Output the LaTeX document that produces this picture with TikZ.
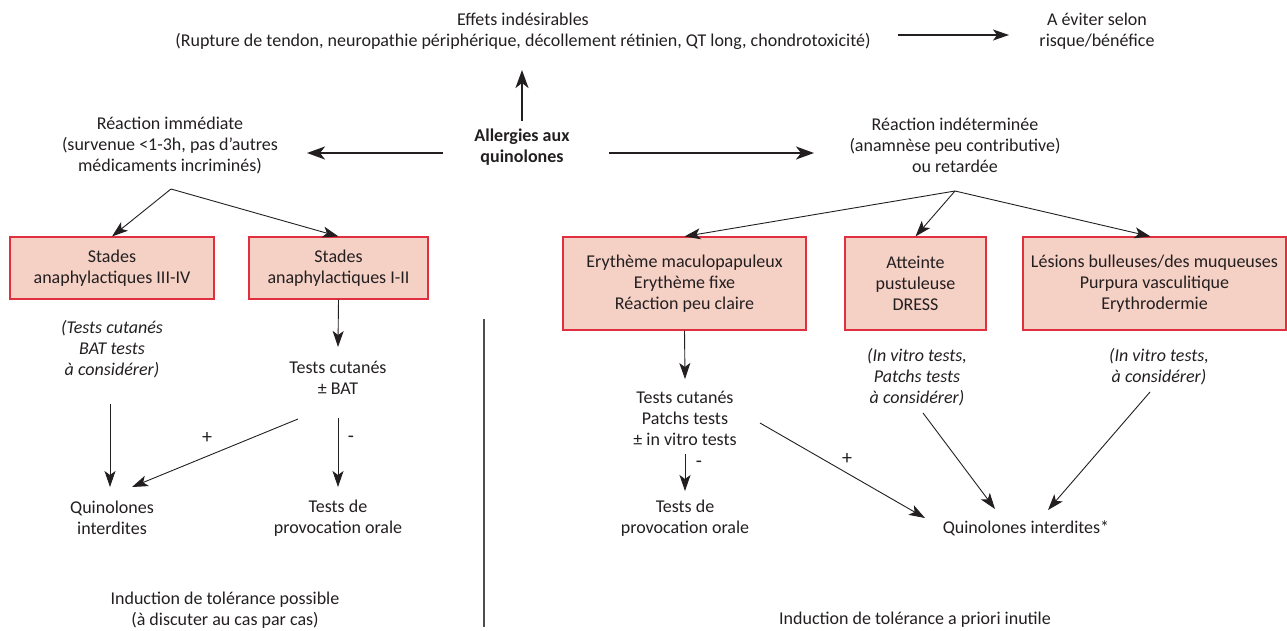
\documentclass[tikz,border=0pt]{standalone}
\usepackage{fontspec}
\setmainfont{Carlito}
\usetikzlibrary{arrows.meta}

\definecolor{quinoInk}{HTML}{231F20}
\definecolor{quinoRose}{HTML}{F5D0C5}
\definecolor{quinoRed}{HTML}{E0303F}
\definecolor{quinoRule}{HTML}{4D4D4D}

\begin{document}
\begin{tikzpicture}[x=1pt,y=-1pt,font=\fontsize{18}{21}\selectfont,text=quinoInk,
  lbl/.style={inner sep=0pt,align=center},
  note/.style={lbl,font=\fontsize{18}{21}\selectfont\itshape},
  redbox/.style={draw=quinoRed,fill=quinoRose,line width=1.1pt,inner sep=0pt,align=center},
  shortbox/.style={redbox,minimum height=62pt},
  tallbox/.style={redbox,minimum height=93pt},
  flow/.style={draw=quinoInk,line width=0.9pt,-{Stealth[length=16pt,width=11pt,inset=4pt]}},
  sideflow/.style={flow,line width=1.3pt},
  mainflow/.style={draw=quinoInk,line width=2.2pt,-{Stealth[length=18pt,width=13pt,inset=5pt]}},
  sign/.style={inner sep=0pt,font=\fontsize{20}{20}\selectfont}]
  \useasboundingbox (0,0) rectangle (1287,630);

  \node[lbl] (effets) at (523,31) {Effets indésirables\\(Rupture de tendon, neuropathie périphérique, décollement rétinien, QT long, chondrotoxicité)};
  \node[lbl] (eviter) at (1097,31) {A éviter selon\\risque/bénéfice};
  \node[lbl,font=\fontsize{18}{21}\selectfont\bfseries] (allergie) at (522,147) {Allergies aux\\quinolones};
  \node[lbl] (immediate) at (170,145) {Réaction immédiate\\(survenue <1-3h, pas d’autres\\médicaments incriminés)};
  \node[lbl] (indeterminee) at (955,145) {Réaction indéterminée\\(anamnèse peu contributive)\\ou retardée};

  \node[shortbox,minimum width=204pt] (stadesHaut) at (112,268) {Stades\\anaphylactiques III-IV};
  \node[shortbox,minimum width=179pt] (stadesBas) at (338.5,268) {Stades\\anaphylactiques I-II};
  \node[tallbox,minimum width=243pt] (erytheme) at (684.5,283.5) {Erythème maculopapuleux\\Erythème fixe\\Réaction peu claire};
  \node[tallbox,minimum width=141pt] (pustuleuse) at (915.5,283.5) {Atteinte\\pustuleuse\\DRESS};
  \node[tallbox,minimum width=263pt] (bulleuse) at (1154.5,283.5) {Lésions bulleuses/des muqueuses\\Purpura vasculitique\\Erythrodermie};

  \node[note] (noteStadesHaut) at (112,349) {(Tests cutanés\\BAT tests\\à considérer)};
  \node[lbl] (cutanesBat) at (338,377.5) {Tests cutanés\\± BAT};
  \node[lbl] (interditesGauche) at (112,518) {Quinolones\\interdites};
  \node[lbl] (provocationGauche) at (338,518) {Tests de\\provocation orale};
  \node[lbl] (toleranceGauche) at (225,610) {Induction de tolérance possible\\(à discuter au cas par cas)};

  \node[lbl] (cutanesPatch) at (685,418) {Tests cutanés\\Patchs tests\\± in vitro tests};
  \node[lbl] (provocationDroite) at (685,518) {Tests de\\provocation orale};
  \node[note] (notePustuleuse) at (917,377) {(In vitro tests,\\Patchs tests\\à considérer)};
  \node[note] (noteBulleuse) at (1159,366.5) {(In vitro tests,\\à considérer)};
  \node[lbl] (interditesDroite) at (1026,528) {Quinolones interdites*};
  \node[lbl] (toleranceDroite) at (915,620) {Induction de tolérance a priori inutile};

  \node[sign] (plusGauche) at (207,438) {+};
  \node[sign] (moinsGauche) at (351,439) {-};
  \node[sign] (plusDroite) at (847,459) {+};
  \node[sign] (moinsDroite) at (699,464) {-};

  \draw[quinoRule,line width=1.2pt] (484,319) -- (484,627);

  \draw[mainflow] ([shift={(0,-26)}]allergie.center) -- ([shift={(-1,39)}]effets.center);
  \draw[mainflow] ([shift={(-79,6)}]allergie.center) -- ([shift={(137,8)}]immediate.center);
  \draw[mainflow] ([shift={(87,6)}]allergie.center) -- ([shift={(-141,8)}]indeterminee.center);
  \draw[sideflow] ([shift={(375,4)}]effets.center) -- ([shift={(-88,4)}]eviter.center);

  \draw[flow] ([shift={(1,44)}]immediate.center) -- (stadesHaut.north);
  \draw[flow] ([shift={(1,44)}]immediate.center) -- (stadesBas.north);
  \draw[flow] (stadesBas.south) -- ([shift={(0,-30.5)}]cutanesBat.center);
  \draw[flow] ([shift={(-2,55)}]noteStadesHaut.center) -- ([shift={(-2,-31)}]interditesGauche.center);
  \draw[flow] ([shift={(-40,41.5)}]cutanesBat.center) -- ([shift={(20,-31)}]interditesGauche.center);
  \draw[flow] ([shift={(0,40.5)}]cutanesBat.center) -- ([shift={(0,-31)}]provocationGauche.center);

  \draw[flow] ([shift={(0,46)}]indeterminee.center) -- (erytheme.north);
  \draw[flow] ([shift={(0,46)}]indeterminee.center) -- (pustuleuse.north);
  \draw[flow] ([shift={(0,46)}]indeterminee.center) -- ([xshift=-4pt]bulleuse.north);
  \draw[flow] (erytheme.south) -- ([shift={(0,-39)}]cutanesPatch.center);
  \draw[flow] ([shift={(0,36)}]cutanesPatch.center) -- ([shift={(0,-27)}]provocationDroite.center);
  \draw[flow] ([shift={(75,5)}]cutanesPatch.center) -- ([shift={(-101,-10)}]interditesDroite.center);
  \draw[flow] ([shift={(6,36)}]notePustuleuse.center) -- ([shift={(-31,-19)}]interditesDroite.center);
  \draw[flow] ([shift={(-9,25.5)}]noteBulleuse.center) -- ([shift={(22,-18)}]interditesDroite.center);
\end{tikzpicture}
\end{document}
